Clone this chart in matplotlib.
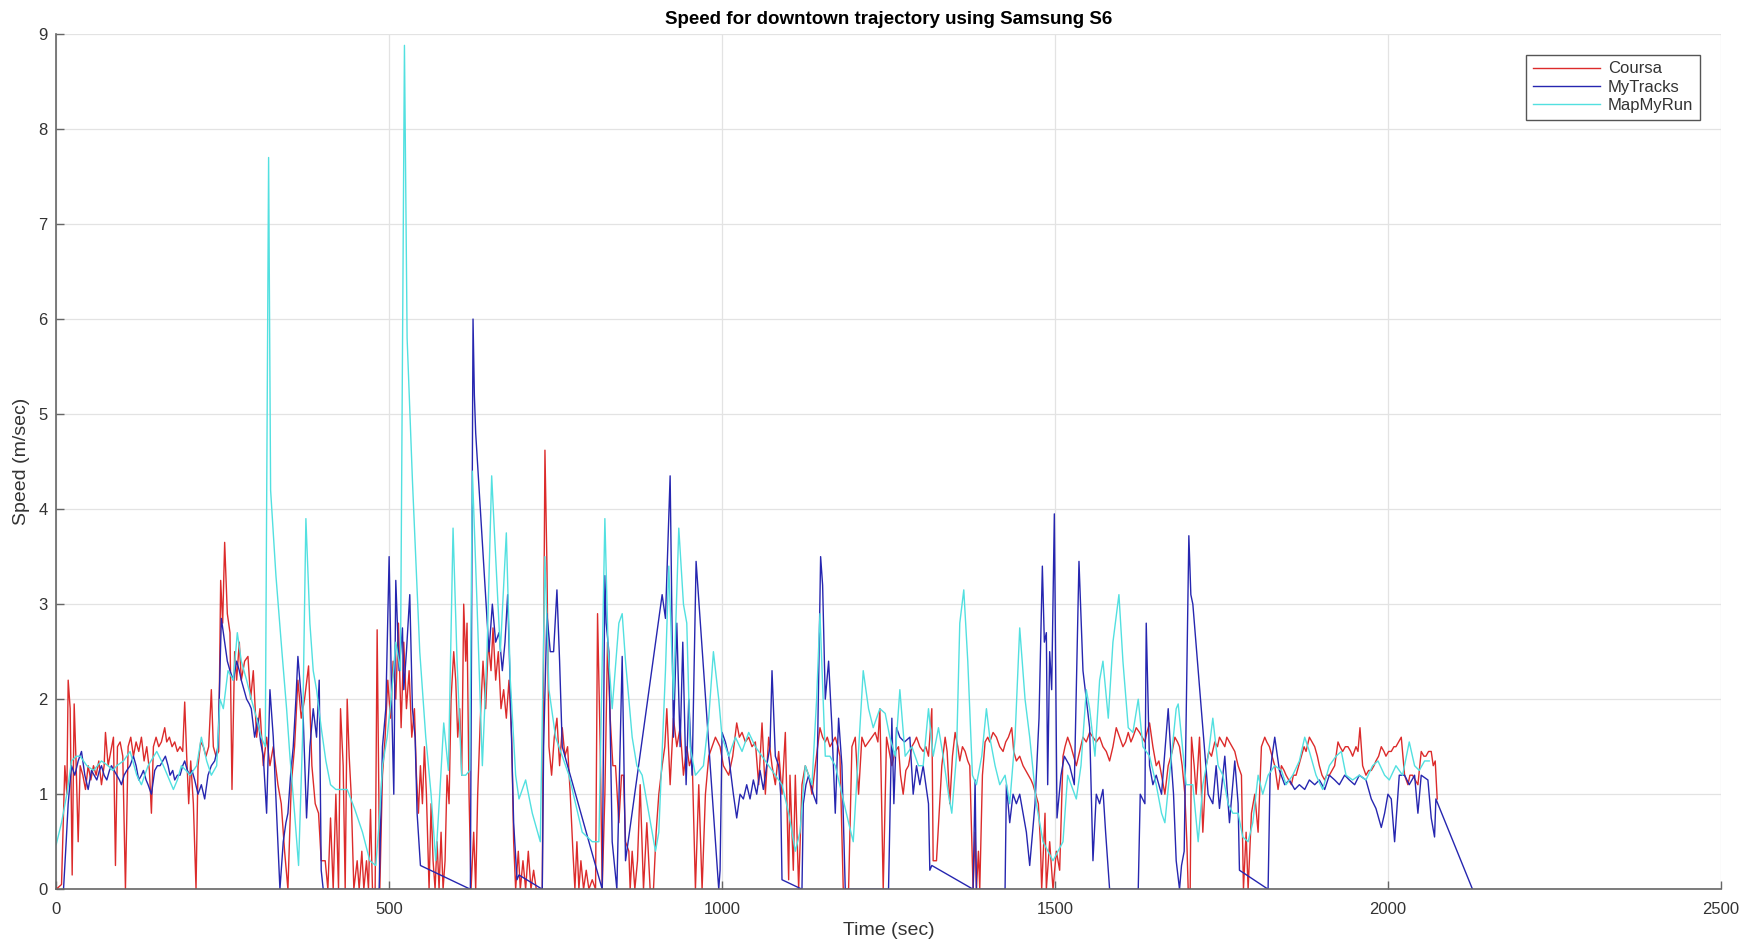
import matplotlib
matplotlib.use("Agg")
import matplotlib.pyplot as plt

plt.rcParams["font.family"] = ["Liberation Sans", "DejaVu Sans"]

# speed samples: (time in sec, speed in m/sec)
coursa = [
    (0, 0.0), (8, 0.05), (13, 1.3), (16, 1.0), (18, 2.2), (21, 1.9), (24, 0.15), (27, 1.95),
    (30, 1.3), (33, 0.5), (36, 1.3), (40, 1.2), (44, 1.05), (48, 1.3), (52, 1.15), (56, 1.3),
    (60, 1.2), (64, 1.35), (68, 1.1), (72, 1.3), (74, 1.65), (78, 1.3), (82, 1.45), (86, 1.6),
    (89, 0.25), (92, 1.5), (96, 1.55), (100, 1.4), (104, 0.0), (108, 1.5), (112, 1.6), (116, 1.4),
    (120, 1.55), (124, 1.45), (128, 1.6), (132, 1.35), (136, 1.5), (140, 1.25), (143, 0.8), (146, 1.5),
    (150, 1.6), (154, 1.5), (158, 1.55), (163, 1.7), (166, 1.55), (170, 1.6), (174, 1.5), (178, 1.55),
    (182, 1.45), (186, 1.5), (190, 1.45), (193, 1.97), (196, 1.4), (199, 0.9), (202, 1.35), (206, 0.9),
    (210, 0.0), (213, 1.3), (217, 1.55), (221, 1.5), (225, 1.4), (229, 1.5), (233, 2.1), (236, 1.5),
    (240, 1.4), (244, 1.45), (247, 3.25), (250, 2.8), (253, 3.65), (257, 2.9), (261, 2.7), (264, 1.05),
    (268, 2.5), (271, 2.2), (275, 2.6), (278, 2.2), (283, 2.4), (288, 2.45), (292, 2.0), (296, 2.3),
    (301, 1.6), (306, 1.9), (311, 1.3), (316, 1.6), (321, 1.3), (326, 1.5), (333, 1.1), (338, 0.9),
    (343, 0.4), (348, 0.0), (353, 1.1), (358, 1.5), (363, 2.2), (368, 1.8), (373, 2.0), (379, 2.35),
    (384, 1.3), (389, 0.9), (394, 0.8), (398, 0.3), (404, 0.3), (408, 0.0), (412, 0.75), (416, 0.0),
    (420, 1.0), (424, 0.0), (427, 1.9), (431, 1.3), (434, 0.0), (437, 2.0), (440, 1.4), (443, 1.0),
    (447, 0.0), (452, 0.3), (455, 0.0), (459, 0.4), (462, 0.0), (466, 0.3), (469, 0.0), (472, 0.84),
    (475, 0.0), (479, 0.0), (482, 2.73), (486, 0.0), (490, 1.2), (494, 1.6), (498, 2.2), (502, 1.8),
    (506, 2.4), (510, 2.0), (514, 2.8), (518, 1.7), (522, 2.6), (526, 1.9), (530, 2.3), (534, 1.6),
    (538, 1.9), (541, 1.2), (544, 0.8), (547, 1.3), (550, 0.9), (553, 1.5), (556, 1.0), (560, 0.0),
    (563, 0.9), (566, 0.3), (569, 0.0), (572, 0.5), (575, 0.0), (578, 0.6), (581, 0.0), (584, 0.3),
    (587, 1.2), (590, 0.9), (593, 2.0), (597, 2.5), (600, 2.2), (603, 1.6), (606, 1.9), (609, 1.2),
    (612, 3.0), (615, 2.4), (617, 2.8), (620, 1.0), (623, 0.0), (627, 0.6), (630, 0.0), (633, 1.0),
    (637, 1.8), (641, 2.4), (645, 1.9), (649, 2.6), (653, 2.3), (656, 2.75), (660, 2.2), (664, 2.5),
    (668, 1.9), (672, 2.1), (676, 1.8), (680, 2.2), (684, 1.6), (687, 0.5), (690, 0.0), (694, 0.4),
    (697, 0.0), (701, 0.3), (705, 0.0), (709, 0.4), (713, 0.0), (717, 0.2), (721, 0.0), (730, 0.0),
    (732, 2.5), (734, 4.62), (737, 3.4), (740, 1.5), (744, 1.2), (748, 1.6), (752, 1.8), (756, 1.3),
    (760, 1.7), (764, 1.4), (768, 1.5), (772, 1.0), (776, 0.4), (779, 0.0), (782, 0.5), (785, 0.0),
    (788, 0.3), (792, 0.0), (796, 0.2), (800, 0.0), (805, 0.1), (810, 0.0), (813, 2.9), (817, 1.5),
    (820, 0.0), (824, 1.0), (828, 2.6), (832, 1.8), (836, 1.3), (840, 1.3), (845, 0.7), (849, 1.2),
    (852, 1.2), (855, 0.5), (860, 0.4), (862, 0.0), (865, 0.4), (869, 0.0), (873, 0.3), (877, 1.1),
    (882, 0.0), (887, 0.7), (892, 0.0), (897, 0.0), (901, 0.6), (905, 1.0), (910, 1.3), (914, 1.5),
    (917, 1.9), (922, 1.1), (927, 1.8), (932, 1.5), (937, 1.7), (942, 1.2), (947, 1.5), (951, 1.3),
    (955, 1.4), (960, 0.0), (965, 1.1), (970, 0.0), (975, 1.0), (980, 1.4), (985, 1.5), (990, 1.6),
    (997, 1.5), (1002, 1.3), (1006, 1.25), (1010, 1.2), (1016, 1.4), (1022, 1.75), (1026, 1.6), (1030, 1.65),
    (1035, 1.55), (1040, 1.6), (1045, 1.5), (1050, 1.55), (1055, 1.1), (1060, 1.75), (1065, 1.0), (1070, 1.6),
    (1075, 1.3), (1080, 1.1), (1085, 1.45), (1090, 1.0), (1095, 1.65), (1100, 0.1), (1102, 1.2), (1107, 0.2),
    (1110, 1.2), (1115, 0.0), (1120, 1.1), (1125, 1.3), (1130, 1.2), (1135, 1.0), (1140, 1.3), (1147, 1.7),
    (1151, 1.6), (1155, 1.55), (1158, 1.6), (1162, 1.5), (1166, 1.55), (1170, 1.6), (1174, 1.5), (1177, 1.4),
    (1182, 0.0), (1186, 0.0), (1190, 0.0), (1195, 1.5), (1200, 1.6), (1205, 1.0), (1210, 1.6), (1215, 1.5),
    (1220, 1.55), (1225, 1.6), (1230, 1.65), (1234, 1.55), (1237, 1.9), (1242, 0.0), (1247, 1.6), (1251, 1.45),
    (1255, 1.3), (1260, 1.45), (1265, 1.5), (1268, 1.2), (1272, 1.0), (1276, 1.25), (1280, 1.3), (1285, 1.5),
    (1289, 1.55), (1292, 1.6), (1297, 1.5), (1302, 1.45), (1306, 1.5), (1310, 1.4), (1315, 1.9), (1317, 0.3),
    (1322, 0.3), (1326, 0.8), (1330, 1.3), (1335, 1.6), (1338, 1.45), (1342, 0.9), (1346, 1.4), (1350, 1.65),
    (1354, 1.5), (1357, 1.35), (1361, 1.5), (1365, 1.45), (1369, 1.35), (1372, 1.3), (1377, 0.0), (1380, 0.6),
    (1382, 0.0), (1385, 0.4), (1387, 0.0), (1391, 1.2), (1395, 1.55), (1399, 1.6), (1402, 1.55), (1407, 1.65),
    (1412, 1.6), (1417, 1.5), (1422, 1.45), (1426, 1.55), (1430, 1.6), (1435, 1.7), (1438, 1.45), (1442, 1.35),
    (1447, 1.4), (1452, 1.3), (1456, 1.25), (1460, 1.2), (1464, 1.15), (1467, 1.1), (1471, 1.0), (1475, 0.9),
    (1478, 0.5), (1480, 0.0), (1485, 0.8), (1487, 0.0), (1492, 0.5), (1497, 0.0), (1502, 0.4), (1507, 0.2),
    (1512, 1.4), (1515, 1.5), (1519, 1.6), (1524, 1.5), (1528, 1.4), (1532, 1.3), (1537, 1.45), (1542, 1.6),
    (1547, 1.55), (1552, 1.65), (1557, 1.6), (1562, 1.55), (1567, 1.6), (1572, 1.5), (1577, 1.45), (1582, 1.35),
    (1587, 1.5), (1592, 1.7), (1597, 1.6), (1602, 1.5), (1606, 1.55), (1610, 1.65), (1614, 1.55), (1617, 1.6),
    (1622, 1.7), (1627, 1.65), (1631, 1.6), (1635, 1.55), (1638, 1.65), (1642, 1.75), (1647, 1.5), (1652, 1.3),
    (1656, 1.35), (1660, 1.2), (1665, 1.0), (1670, 1.3), (1676, 1.45), (1680, 1.6), (1684, 1.55), (1687, 1.5),
    (1691, 1.3), (1695, 1.0), (1698, 0.5), (1700, 0.0), (1703, 0.0), (1705, 1.6), (1709, 1.3), (1712, 1.0),
    (1717, 1.6), (1722, 0.6), (1727, 1.3), (1731, 1.45), (1735, 1.4), (1740, 1.55), (1744, 1.5), (1747, 1.6),
    (1751, 1.55), (1755, 1.5), (1758, 1.6), (1762, 1.55), (1766, 1.5), (1770, 1.45), (1775, 1.3), (1780, 1.2),
    (1783, 0.0), (1787, 0.6), (1790, 0.0), (1795, 0.8), (1800, 1.0), (1805, 0.6), (1810, 1.5), (1815, 1.6),
    (1818, 1.55), (1822, 1.5), (1826, 1.4), (1830, 1.3), (1835, 1.05), (1840, 1.3), (1844, 1.25), (1847, 1.2),
    (1851, 1.15), (1855, 1.1), (1858, 1.2), (1862, 1.2), (1866, 1.3), (1870, 1.4), (1874, 1.5), (1877, 1.45),
    (1882, 1.6), (1886, 1.55), (1890, 1.5), (1894, 1.4), (1897, 1.3), (1901, 1.2), (1905, 1.15), (1908, 1.2),
    (1912, 1.2), (1916, 1.25), (1920, 1.3), (1925, 1.55), (1928, 1.5), (1932, 1.45), (1936, 1.5), (1940, 1.5),
    (1944, 1.45), (1947, 1.4), (1952, 1.5), (1955, 1.45), (1958, 1.7), (1962, 1.3), (1967, 1.2), (1971, 1.25),
    (1975, 1.25), (1979, 1.3), (1982, 1.35), (1986, 1.4), (1990, 1.5), (1994, 1.45), (1997, 1.4), (2001, 1.45),
    (2005, 1.45), (2009, 1.5), (2012, 1.5), (2016, 1.55), (2020, 1.6), (2025, 1.2), (2030, 1.1), (2033, 1.2),
    (2037, 1.2), (2041, 1.15), (2045, 1.1), (2050, 1.45), (2054, 1.4), (2057, 1.4), (2061, 1.45), (2065, 1.45),
    (2068, 1.3), (2071, 1.35), (2074, 0.95),
]

mytracks = [
    (11, 0.0), (15, 0.5), (18, 0.9), (23, 1.3), (28, 1.2), (33, 1.35), (38, 1.45), (43, 1.2),
    (48, 1.05), (53, 1.25), (57, 1.2), (61, 1.15), (65, 1.25), (68, 1.3), (72, 1.2), (76, 1.15),
    (80, 1.25), (83, 1.3), (87, 1.25), (91, 1.2), (95, 1.15), (98, 1.1), (102, 1.2), (106, 1.25),
    (111, 1.3), (116, 1.4), (120, 1.3), (124, 1.15), (128, 1.2), (131, 1.25), (135, 1.15), (138, 1.1),
    (143, 1.0), (148, 1.25), (152, 1.3), (156, 1.3), (160, 1.35), (164, 1.4), (168, 1.3), (171, 1.2),
    (175, 1.25), (178, 1.15), (182, 1.2), (186, 1.2), (190, 1.3), (193, 1.35), (197, 1.25), (201, 1.2),
    (204, 1.25), (208, 1.15), (213, 1.0), (218, 1.1), (223, 0.95), (228, 1.2), (233, 1.3), (238, 1.35),
    (243, 1.5), (248, 2.85), (253, 2.6), (257, 2.4), (261, 2.3), (266, 2.2), (271, 2.4), (275, 2.3),
    (278, 2.2), (282, 2.1), (286, 2.0), (290, 1.95), (293, 1.9), (298, 1.6), (303, 1.8), (307, 1.55),
    (311, 1.4), (316, 0.8), (321, 2.1), (326, 1.6), (331, 0.8), (336, 0.0), (341, 0.5), (345, 0.7),
    (348, 0.8), (352, 1.2), (356, 1.5), (360, 2.0), (363, 2.45), (367, 2.1), (371, 1.8), (376, 0.75),
    (381, 1.5), (386, 1.9), (391, 1.6), (395, 2.2), (398, 0.2), (401, 0.0), (440, 0.0), (485, 0.0),
    (490, 1.5), (495, 1.9), (500, 3.5), (504, 1.9), (507, 1.0), (510, 3.25), (515, 2.3), (520, 2.75),
    (522, 2.1), (526, 2.5), (531, 3.1), (535, 1.9), (539, 1.6), (542, 0.8), (547, 0.25), (622, 0.0),
    (626, 6.0), (628, 5.2), (630, 4.8), (650, 2.5), (655, 3.0), (660, 2.6), (665, 2.7), (670, 2.3),
    (674, 2.6), (678, 3.1), (682, 2.1), (687, 0.7), (692, 0.1), (695, 0.15), (730, 0.0), (732, 1.5),
    (737, 2.9), (742, 2.5), (747, 2.5), (752, 3.15), (756, 2.4), (760, 1.5), (820, 0.0), (824, 3.3),
    (826, 2.8), (830, 2.5), (835, 0.5), (842, 0.0), (850, 2.45), (855, 0.3), (910, 3.1), (915, 2.85),
    (922, 4.35), (927, 1.6), (932, 2.8), (937, 1.5), (941, 2.6), (946, 1.1), (950, 2.0), (955, 1.2),
    (961, 3.45), (995, 0.0), (997, 0.2), (1000, 1.65), (1005, 1.55), (1010, 1.4), (1017, 1.0), (1022, 0.75),
    (1027, 1.0), (1032, 0.95), (1037, 1.1), (1042, 0.95), (1047, 1.15), (1052, 1.0), (1057, 1.25), (1062, 1.05),
    (1067, 1.3), (1072, 1.5), (1075, 2.3), (1080, 1.4), (1085, 1.3), (1088, 1.0), (1090, 0.1), (1120, 0.0),
    (1122, 0.9), (1126, 1.1), (1130, 1.2), (1137, 1.0), (1142, 0.9), (1148, 3.5), (1151, 3.2), (1155, 2.0),
    (1160, 2.4), (1165, 1.7), (1170, 0.8), (1175, 1.8), (1180, 1.3), (1185, 0.0), (1250, 0.0), (1255, 1.8),
    (1258, 0.9), (1262, 1.7), (1267, 1.6), (1274, 1.55), (1282, 1.6), (1287, 1.0), (1292, 1.3), (1297, 1.1),
    (1302, 1.3), (1310, 0.9), (1312, 0.2), (1315, 0.25), (1377, 0.0), (1380, 1.15), (1382, 0.0), (1425, 0.0),
    (1427, 1.1), (1432, 0.7), (1437, 1.0), (1442, 0.9), (1447, 1.0), (1452, 0.8), (1457, 0.6), (1462, 0.25),
    (1470, 0.9), (1476, 1.8), (1481, 3.4), (1484, 2.6), (1487, 2.7), (1489, 1.1), (1492, 2.5), (1495, 2.1),
    (1499, 3.95), (1503, 0.75), (1509, 1.2), (1514, 1.4), (1522, 1.3), (1529, 1.1), (1536, 3.45), (1542, 2.3),
    (1552, 1.7), (1557, 0.3), (1562, 1.0), (1567, 0.9), (1572, 1.05), (1576, 0.6), (1582, 0.0), (1625, 0.0),
    (1628, 1.0), (1635, 0.9), (1637, 2.8), (1642, 1.3), (1647, 1.1), (1652, 1.2), (1660, 1.0), (1670, 1.9),
    (1675, 1.3), (1678, 1.0), (1682, 0.3), (1687, 0.0), (1690, 0.25), (1694, 0.4), (1701, 3.72), (1704, 3.1),
    (1707, 3.0), (1730, 1.0), (1737, 0.9), (1742, 1.3), (1747, 0.85), (1755, 1.4), (1762, 0.7), (1770, 1.35),
    (1775, 0.9), (1777, 0.2), (1820, 0.0), (1823, 1.2), (1826, 1.4), (1830, 1.6), (1837, 1.25), (1845, 1.1),
    (1852, 1.15), (1860, 1.05), (1867, 1.1), (1875, 1.05), (1882, 1.15), (1890, 1.1), (1897, 1.15), (1905, 1.05),
    (1912, 1.2), (1920, 1.15), (1927, 1.1), (1935, 1.2), (1942, 1.15), (1950, 1.1), (1957, 1.2), (1967, 1.15),
    (1975, 0.95), (1982, 0.85), (1990, 0.65), (1995, 0.8), (2000, 1.0), (2005, 0.95), (2010, 0.5), (2017, 1.2),
    (2025, 1.2), (2032, 1.1), (2040, 1.2), (2045, 0.8), (2050, 1.2), (2060, 1.15), (2065, 0.75), (2070, 0.55),
    (2072, 0.95), (2127, 0.0),
]

mapmyrun = [
    (0, 0.47), (8, 0.7), (16, 1.0), (23, 1.35), (30, 1.4), (36, 1.4), (46, 1.3), (56, 1.25),
    (62, 1.3), (68, 1.35), (78, 1.3), (85, 1.25), (91, 1.3), (101, 1.35), (111, 1.45), (121, 1.2),
    (128, 1.1), (138, 1.3), (151, 1.45), (158, 1.35), (164, 1.25), (170, 1.15), (176, 1.05), (182, 1.15),
    (188, 1.3), (195, 1.25), (201, 1.2), (206, 1.25), (211, 1.3), (218, 1.6), (226, 1.35), (233, 1.2),
    (241, 1.3), (246, 2.0), (251, 1.9), (258, 2.3), (266, 2.2), (272, 2.7), (278, 2.4), (286, 2.2),
    (293, 2.0), (301, 1.8), (308, 1.6), (314, 1.5), (319, 7.7), (322, 4.2), (330, 3.3), (339, 2.5),
    (346, 1.9), (351, 1.4), (358, 0.8), (364, 0.25), (370, 1.6), (375, 3.9), (381, 2.8), (386, 2.3),
    (391, 2.1), (398, 1.7), (405, 1.35), (412, 1.1), (420, 1.05), (430, 1.05), (437, 1.05), (448, 0.85),
    (460, 0.6), (471, 0.3), (480, 0.25), (485, 0.7), (490, 1.3), (497, 1.6), (503, 2.0), (510, 2.6),
    (517, 2.3), (523, 8.88), (527, 5.8), (535, 4.3), (546, 2.5), (555, 1.6), (563, 1.0), (570, 0.3),
    (576, 1.0), (582, 1.75), (589, 1.25), (596, 3.8), (602, 2.4), (609, 1.2), (615, 1.2), (621, 1.25),
    (625, 4.4), (632, 3.0), (640, 1.3), (647, 2.5), (654, 4.35), (660, 3.5), (667, 2.5), (676, 3.75),
    (682, 2.2), (690, 1.2), (695, 0.95), (705, 1.15), (715, 0.8), (727, 0.5), (734, 3.5), (740, 2.1),
    (750, 1.6), (760, 1.4), (770, 1.2), (780, 0.9), (790, 0.6), (805, 0.5), (815, 0.5), (824, 3.9),
    (829, 2.5), (835, 1.9), (845, 2.8), (850, 2.9), (855, 2.4), (860, 2.0), (865, 1.6), (872, 1.3),
    (880, 1.2), (890, 0.8), (900, 0.4), (905, 0.6), (915, 2.3), (920, 3.4), (927, 2.0), (935, 3.8),
    (942, 3.0), (947, 2.8), (952, 1.5), (960, 1.2), (972, 1.3), (980, 1.8), (987, 2.5), (995, 2.0),
    (1000, 1.6), (1010, 1.4), (1020, 1.6), (1030, 1.45), (1040, 1.65), (1050, 1.5), (1060, 1.4), (1070, 1.3),
    (1080, 1.2), (1090, 1.1), (1100, 0.8), (1110, 0.4), (1117, 0.6), (1125, 1.3), (1135, 1.1), (1142, 2.0),
    (1147, 2.9), (1155, 1.4), (1162, 1.4), (1170, 1.3), (1180, 1.0), (1190, 0.7), (1197, 0.5), (1202, 1.1),
    (1212, 2.3), (1220, 1.9), (1227, 1.7), (1237, 1.9), (1245, 1.85), (1252, 1.6), (1260, 1.4), (1267, 2.1),
    (1275, 1.4), (1285, 1.5), (1295, 1.3), (1302, 1.3), (1310, 1.9), (1317, 1.4), (1325, 1.7), (1332, 1.4),
    (1340, 1.0), (1345, 0.8), (1352, 1.4), (1357, 2.8), (1363, 3.15), (1369, 2.4), (1376, 1.2), (1382, 1.1),
    (1390, 1.4), (1397, 1.9), (1402, 1.6), (1410, 1.3), (1417, 1.1), (1425, 1.2), (1432, 0.9), (1440, 1.6),
    (1447, 2.75), (1455, 2.0), (1462, 1.6), (1472, 0.9), (1482, 0.5), (1497, 0.3), (1512, 0.5), (1519, 1.2),
    (1532, 0.95), (1539, 1.3), (1547, 2.1), (1552, 1.9), (1560, 1.4), (1567, 2.2), (1572, 2.4), (1580, 1.8),
    (1587, 2.6), (1596, 3.1), (1602, 2.4), (1610, 1.7), (1617, 1.65), (1625, 2.0), (1632, 1.5), (1642, 1.4),
    (1652, 1.1), (1660, 0.8), (1665, 0.7), (1672, 1.2), (1682, 1.9), (1685, 1.95), (1690, 1.6), (1697, 1.1),
    (1707, 1.1), (1715, 0.5), (1722, 1.1), (1730, 1.4), (1737, 1.8), (1745, 1.3), (1752, 1.2), (1760, 0.9),
    (1767, 0.8), (1775, 0.8), (1782, 0.55), (1790, 0.5), (1797, 0.7), (1805, 1.2), (1812, 1.0), (1820, 1.2),
    (1830, 1.3), (1840, 1.25), (1847, 1.1), (1857, 1.2), (1867, 1.35), (1875, 1.6), (1882, 1.45), (1892, 1.2),
    (1902, 1.05), (1912, 1.3), (1922, 1.4), (1930, 1.45), (1937, 1.2), (1947, 1.15), (1957, 1.2), (1967, 1.15),
    (1977, 1.3), (1985, 1.35), (1995, 1.2), (2002, 1.15), (2012, 1.3), (2022, 1.2), (2032, 1.55), (2040, 1.3),
    (2047, 1.25), (2055, 1.35), (2062, 1.35),
]

series_names = ["Coursa", "MyTracks", "MapMyRun"]
series_colors = ["#dc2b2b", "#2626b0", "#52e0e0"]

fig = plt.figure(figsize=(17.56, 9.43), dpi=100)
ax = fig.add_axes([0.032, 0.057, 0.948, 0.907])

for data, name, color in zip([coursa, mytracks, mapmyrun], series_names, series_colors):
    t, v = zip(*data)
    ax.plot(t, v, color=color, linewidth=1.0, label=name)

ax.set_xlim(0, 2500)
ax.set_ylim(0, 9)
ax.set_xticks(range(0, 2501, 500))
ax.set_yticks(range(0, 10))
ax.grid(True, color="#e3e3e3", linewidth=0.9)
ax.set_axisbelow(True)

for side in ["top", "right"]:
    ax.spines[side].set_visible(False)
for side in ["left", "bottom"]:
    ax.spines[side].set_color("#666666")
    ax.spines[side].set_linewidth(1.2)

ax.tick_params(direction="in", length=6, width=1.0, color="#666666",
               labelsize=12, labelcolor="#333333")
ax.tick_params(axis="x", pad=9)
ax.tick_params(axis="y", pad=6)

ax.set_xlabel("Time (sec)", fontsize=14, color="#333333", labelpad=4)
ax.set_ylabel("Speed (m/sec)", fontsize=14, color="#333333", labelpad=6)
ax.set_title("Speed for downtown trajectory using Samsung S6", fontsize=13.5,
             fontweight="bold", pad=7)

leg = ax.legend(loc="upper right", fontsize=12, frameon=True, fancybox=False,
                edgecolor="#555555", framealpha=1, handlelength=4.0,
                borderaxespad=1.25, borderpad=0.4, labelspacing=0.2,
                handletextpad=0.5)
leg.get_frame().set_linewidth(1.0)
for text in leg.get_texts():
    text.set_color("#333333")

fig.savefig("out.png", dpi=100)
